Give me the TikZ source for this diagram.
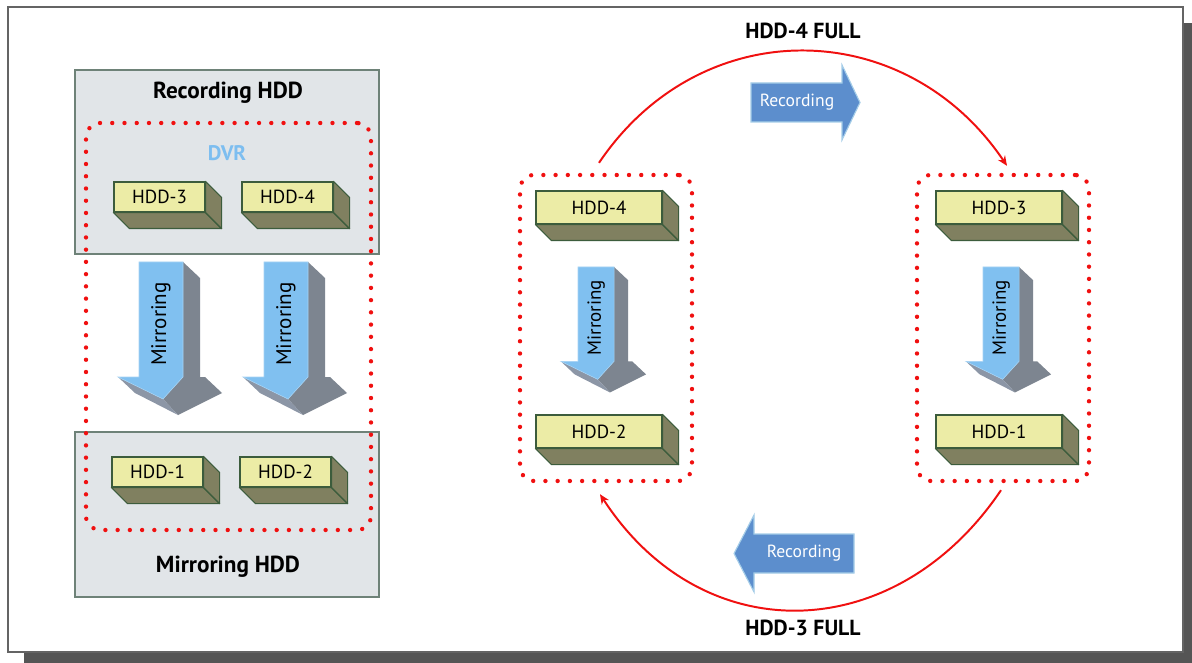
\documentclass[tikz,border=0pt]{standalone}
\usepackage{fontspec}
\setmainfont{PT Sans}
\usepackage{xcolor}
\usepackage{tikz}
\usetikzlibrary{arrows.meta, positioning, calc}
\definecolor{dvrgray}{RGB}{225, 229, 232}
\definecolor{dvredge}{RGB}{110, 130, 120}
\definecolor{hddyellow}{RGB}{236, 236, 166}
\definecolor{hddolive}{RGB}{128, 128, 96}
\definecolor{hddedge}{RGB}{60, 92, 60}
\definecolor{mirblue}{RGB}{128, 192, 240}
\definecolor{mirgray}{RGB}{125, 133, 144}
\definecolor{mirgraylt}{RGB}{140, 150, 166}
\definecolor{recblue}{RGB}{92, 142, 205}
\definecolor{recedge}{RGB}{165, 205, 232}
\definecolor{dvrblue}{RGB}{125, 190, 240}
\definecolor{dotred}{RGB}{240, 16, 16}
\definecolor{shadowgray}{RGB}{85, 85, 85}
\definecolor{pageedge}{RGB}{100, 100, 100}

\newlength{\pxu}
\setlength{\pxu}{0.025cm}

% front face of a disk plus its two depth faces
\newcommand{\hdd}[4][]{%
  \node[hddbox, #1] (#2) at #3 {#4};
  \filldraw[hddside] (#2.south west) -- (#2.south east) -- ++(16,-16) -- ($(#2.south west)+(16,-16)$) -- cycle;
  \filldraw[hddside] (#2.north east) -- ++(16,-16) -- ($(#2.south east)+(16,-16)$) -- (#2.south east) -- cycle;
}

% 3d arrow pointing down, origin at top left of the shaft
\newcommand{\mirarrow}[4][]{%
  \begin{scope}[shift={#3}, scale=#4]
    \fill[mirgray] (44,0) -- (61,-16) -- (61,-115) -- (66,-115) -- (83,-131) -- (39,-153) -- (24,-137) -- (44,-115) -- cycle;
    \fill[mirgraylt] (-21,-115) -- (24,-137) -- (39,-153) -- (-4,-131) -- cycle;
    \filldraw[mirface] (0,0) -- (44,0) -- (44,-115) -- (24,-137) -- (-21,-115) -- (0,-115) -- cycle;
    \node[mirtext, rotate=90, #1] (#2) at (22,-62) {Mirroring};
  \end{scope}}

\begin{document}
\begin{tikzpicture}[
  x=\pxu, y=\pxu,
  grpbox/.style={rectangle, draw=dvredge, fill=dvrgray, line width=0.8pt, inner sep=0pt},
  dvrgroup/.style={rectangle, rounded corners=10pt, draw=dotred, line width=3.1pt,
              dash pattern=on 0pt off 8.7pt, line cap=round, inner sep=0pt},
  hddbox/.style={rectangle, draw=hddedge, fill=hddyellow, line width=0.8pt, inner sep=0pt,
              minimum width=91\pxu, minimum height=30\pxu, font=\fontsize{13.5}{15}\selectfont},
  bighdd/.style={minimum width=126\pxu, minimum height=33\pxu},
  hddside/.style={draw=hddedge, fill=hddolive, line width=0.8pt, line join=round},
  mirface/.style={draw=mirblue!70!white, fill=mirblue, line width=0.4pt},
  mirtext/.style={inner sep=0pt, font=\fontsize{15}{17}\selectfont},
  title/.style={inner sep=0pt, font=\fontsize{16.5}{18}\selectfont\bfseries},
  recarrow/.style={draw=recedge, fill=recblue, line width=0.8pt},
  rectext/.style={inner sep=0pt, text=white, font=\fontsize{12.5}{14}\selectfont},
  cyclearrow/.style={-{Stealth[length=7pt, width=6pt]}, draw=dotred, line width=1.4pt},
]
  \useasboundingbox (0,0) rectangle (1192,-663);
  % page and its shadow
  \fill[shadowgray] (24,-23) rectangle (1192,-663);
  \filldraw[draw=pageedge, fill=white, line width=1pt] (8,-7) rectangle (1183,-652);

  % left: recording and mirroring disks
  \node[grpbox, minimum width=304\pxu, minimum height=184\pxu] (rechdd) at (227,-162) {};
  \node[grpbox, minimum width=304\pxu, minimum height=165\pxu] (mirhdd) at (227,-514.5) {};
  \node[title] (reclbl) at (228,-93) {Recording HDD};
  \node[title] (mirlbl) at (228,-567) {Mirroring HDD};
  \node[dvrgroup, minimum width=285\pxu, minimum height=407\pxu] (dvr) at (228.5,-326.5) {};
  \node[inner sep=0pt, text=dvrblue, font=\fontsize{15}{17}\selectfont\bfseries] (dvrlbl) at (227,-153) {DVR};

  \hdd{hddc}{(159.5,-197)}{HDD-3}
  \hdd{hddd}{(287.5,-197)}{HDD-4}
  \hdd{hdda}{(157.5,-472)}{HDD-1}
  \hdd{hddb}{(285.5,-472)}{HDD-2}

  \mirarrow{mira}{(139,-262)}{1}
  \mirarrow{mirb}{(264,-262)}{1}

  % right: the two pairs swap roles when a disk is full
  \node[dvrgroup, minimum width=172\pxu, minimum height=306\pxu] (grpl) at (606,-328) {};
  \node[dvrgroup, minimum width=172\pxu, minimum height=306\pxu] (grpr) at (1003,-328) {};

  \hdd[bighdd]{rhddd}{(599,-207.5)}{HDD-4}
  \hdd[bighdd]{rhddb}{(599,-431.5)}{HDD-2}
  \hdd[bighdd]{rhddc}{(999,-207.5)}{HDD-3}
  \hdd[bighdd]{rhdda}{(999,-431.5)}{HDD-1}

  \mirarrow[font=\fontsize{13.5}{15}\selectfont]{mirc}{(578,-267)}{0.82}
  \mirarrow[font=\fontsize{13.5}{15}\selectfont]{mird}{(983,-267)}{0.82}

  \draw[cyclearrow] ([shift={(-7,10)}]grpl.north) to[out=56, in=124, looseness=1.14] ([shift={(4,7)}]grpr.north);
  \draw[cyclearrow] ([shift={(-2,-7)}]grpr.south) to[out=236, in=-57, looseness=1.2] ([shift={(-6,-11)}]grpl.south);

  \node[title, font=\fontsize{15.5}{17}\selectfont\bfseries] (fulltop) at (803,-31) {HDD-4 FULL};
  \node[title, font=\fontsize{15.5}{17}\selectfont\bfseries] (fullbot) at (803,-628) {HDD-3 FULL};

  \filldraw[recarrow] (751,-83) -- (842,-83) -- (842,-65) -- (860,-102.5) -- (842,-140) -- (842,-122) -- (751,-122) -- cycle;
  \node[rectext] (rectop) at (797,-102) {Recording};
  \filldraw[recarrow] (854,-534) -- (754,-534) -- (754,-515) -- (734,-553.5) -- (754,-592) -- (754,-573) -- (854,-573) -- cycle;
  \node[rectext] (recbot) at (804,-553) {Recording};
\end{tikzpicture}
\end{document}
